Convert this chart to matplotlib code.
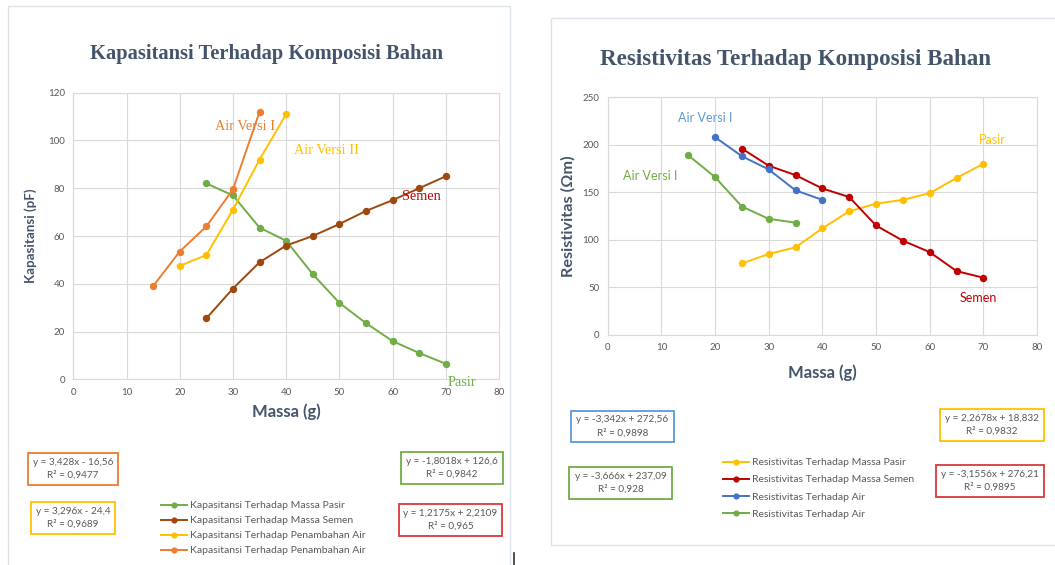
import numpy as np
import matplotlib
matplotlib.use('Agg')
import matplotlib.pyplot as plt
from matplotlib.patches import Rectangle
from matplotlib.lines import Line2D

W, H = 1055, 565

# ---- data: kapasitansi (left) ----
x_pasir_k = [25, 30, 35, 40, 45, 50, 55, 60, 65, 70]
y_pasir_k = [82, 77, 63.5, 58, 44, 32, 23.5, 16, 11, 6.5]
x_semen_k = [25, 30, 35, 40, 45, 50, 55, 60, 65, 70]
y_semen_k = [25.5, 38, 49, 56, 60, 65, 70.5, 75, 80, 85]
x_air2_k = [20, 25, 30, 35, 40]
y_air2_k = [47.5, 52, 71, 92, 111]
x_air1_k = [15, 20, 25, 30, 35]
y_air1_k = [39, 53.5, 64, 79.5, 112]

# ---- data: resistivitas (right) ----
x_pasir_r = [25, 30, 35, 40, 45, 50, 55, 60, 65, 70]
y_pasir_r = [75, 85, 92, 112, 130, 138, 142, 149, 165, 180]
x_semen_r = [25, 30, 35, 40, 45, 50, 55, 60, 65, 70]
y_semen_r = [196, 178, 168, 154, 145, 115, 99, 87, 67, 60]
x_air1_r = [20, 25, 30, 35, 40]
y_air1_r = [208, 188, 174, 152, 142]
x_air2_r = [15, 20, 25, 30, 35]
y_air2_r = [189, 166, 135, 122, 118]

GREEN = '#70AD47'; BROWN = '#9E480E'; YELLOW = '#FFC000'; ORANGE = '#ED7D31'
BLUE = '#4472C4'; RED = '#C00000'; GRID = '#D9D9D9'; TXT = '#595959'; HEAD = '#44546A'

plt.rcParams['font.family'] = ['Lato', 'DejaVu Sans']

fig = plt.figure(figsize=(W / 100, H / 100), dpi=100)


def box(x0, y0, x1, y1):
    # pixel box (top-left origin) -> figure fraction rect
    return [x0 / W, 1 - y1 / H, (x1 - x0) / W, (y1 - y0) / H]


def fx(x): return x / W
def fy(y): return 1 - y / H


# panel frames
fig.patches.append(Rectangle((fx(8), fy(575)), (510 - 8) / W, (575 - 6) / H,
                             transform=fig.transFigure, fill=False, ec='#DDE3EA', lw=1))
fig.patches.append(Rectangle((fx(551), fy(545)), (1065 - 551) / W, (545 - 18) / H,
                             transform=fig.transFigure, fill=False, ec='#DDE3EA', lw=1))
# little cursor mark between the panels
fig.lines.append(Line2D([fx(514), fx(514)], [fy(553), fy(565)], transform=fig.transFigure,
                        color='#333333', lw=1.2))


def style_axes(ax, xmax, ymax, ystep):
    ax.set_xlim(0, xmax); ax.set_ylim(0, ymax)
    ax.set_xticks(np.arange(0, xmax + 1, 10))
    ax.set_yticks(np.arange(0, ymax + 1, ystep))
    ax.grid(True, color=GRID, lw=0.8)
    ax.set_axisbelow(True)
    for s in ax.spines.values():
        s.set_color(GRID); s.set_linewidth(0.8)
    ax.tick_params(length=0, labelsize=7, colors=TXT, pad=6)


def legend(ax, handles, labels, x, y, spacing):
    ax.legend(handles, labels, loc='upper left', bbox_to_anchor=(fx(x), fy(y)),
              bbox_transform=fig.transFigure, frameon=False, fontsize=7.5, labelcolor=TXT,
              handlelength=2.5, handletextpad=0.3, labelspacing=spacing,
              borderaxespad=0, borderpad=0, markerscale=0.8)


# ---------- left chart ----------
axL = fig.add_axes(box(73.3, 92.7, 499, 379.3))
style_axes(axL, 80, 120, 20)
mk = dict(marker='o', markersize=4.3, lw=1.4)
l1, = axL.plot(x_pasir_k, y_pasir_k, color=GREEN, **mk)
l2, = axL.plot(x_semen_k, y_semen_k, color=BROWN, **mk)
l3, = axL.plot(x_air2_k, y_air2_k, color=YELLOW, **mk)
l4, = axL.plot(x_air1_k, y_air1_k, color=ORANGE, **mk)
axL.set_xlabel('Massa (g)', fontsize=12, fontweight='bold', color=HEAD, labelpad=5)
axL.set_ylabel('Kapasitansi (pF)', fontsize=9.6, fontweight='bold', color=HEAD, labelpad=8)

serif = ['Liberation Serif', 'DejaVu Serif']
fig.text(fx(267), fy(54), 'Kapasitansi Terhadap Komposisi Bahan', family=serif,
         fontsize=14.8, fontweight='bold', color=HEAD, ha='center', va='center')
fig.text(fx(245), fy(127), 'Air Versi I', family=serif, fontsize=10.3, color=ORANGE,
         ha='center', va='center')
fig.text(fx(326), fy(150), 'Air Versi II', family=serif, fontsize=10.3, color=YELLOW,
         ha='center', va='center')
fig.text(fx(421), fy(197), 'Semen', family=serif, fontsize=10.3, color=RED,
         ha='center', va='center')
fig.text(fx(462), fy(382), 'Pasir', family=serif, fontsize=10.3, color=GREEN,
         ha='center', va='center')

legend(axL, [l1, l2, l3, l4],
       ['Kapasitansi Terhadap Massa Pasir', 'Kapasitansi Terhadap Massa Semen',
        'Kapasitansi Terhadap Penambahan Air', 'Kapasitansi Terhadap Penambahan Air'],
       161, 501, 0.55)


def eq_box(x0, y0, x1, y1, color, line1, line2):
    fig.patches.append(Rectangle((fx(x0), fy(y1)), (x1 - x0) / W, (y1 - y0) / H,
                                 transform=fig.transFigure, fill=False, ec=color, lw=1.3))
    cx = (x0 + x1) / 2; cy = (y0 + y1) / 2
    fig.text(fx(cx), fy(cy - 6.5), line1, fontsize=7.2, color=TXT, ha='center', va='center')
    fig.text(fx(cx), fy(cy + 6.5), line2, fontsize=7.2, color=TXT, ha='center', va='center')


eq_box(28, 453, 118, 485, ORANGE, 'y = 3,428x - 16,56', 'R² = 0,9477')
eq_box(31, 502, 115, 534, YELLOW, 'y = 3,296x - 24,4', 'R² = 0,9689')
eq_box(401, 452, 503, 484, GREEN, 'y = -1,8018x + 126,6', 'R² = 0,9842')
eq_box(399, 504, 502, 536, '#D9383A', 'y = 1,2175x + 2,2109', 'R² = 0,965')

# ---------- right chart ----------
axR = fig.add_axes(box(607.7, 97.3, 1037, 334.7))
style_axes(axR, 80, 250, 50)
r1, = axR.plot(x_pasir_r, y_pasir_r, color=YELLOW, **mk)
r2, = axR.plot(x_semen_r, y_semen_r, color=RED, **mk)
r3, = axR.plot(x_air1_r, y_air1_r, color=BLUE, **mk)
r4, = axR.plot(x_air2_r, y_air2_r, color=GREEN, **mk)
axR.set_xlabel('Massa (g)', fontsize=12, fontweight='bold', color=HEAD, labelpad=9)
axR.set_ylabel('Resistivitas (Ωm)', fontsize=11.7, fontweight='bold', color=HEAD, labelpad=5)

fig.text(fx(796), fy(60), 'Resistivitas Terhadap Komposisi Bahan', family=serif,
         fontsize=16.6, fontweight='bold', color=HEAD, ha='center', va='center')
fig.text(fx(705), fy(118), 'Air Versi I', fontsize=9, color='#5B9BD5', ha='center', va='center')
fig.text(fx(650), fy(176), 'Air Versi I', fontsize=9, color=GREEN, ha='center', va='center')
fig.text(fx(992), fy(140), 'Pasir', fontsize=9, color=YELLOW, ha='center', va='center')
fig.text(fx(978), fy(298), 'Semen', fontsize=9, color=RED, ha='center', va='center')

legend(axR, [r1, r2, r3, r4],
       ['Resistivitas Terhadap Massa Pasir', 'Resistivitas Terhadap Massa Semen',
        'Resistivitas Terhadap Air', 'Resistivitas Terhadap Air'],
       723, 458, 0.75)

eq_box(571, 411, 674, 442, '#5B9BD5', 'y = -3,342x + 272,56', 'R² = 0,9898')
eq_box(569, 467, 672, 499, GREEN, 'y = -3,666x + 237,09', 'R² = 0,928')
eq_box(940, 409, 1044, 441, YELLOW, 'y = 2,2678x + 18,832', 'R² = 0,9832')
eq_box(936, 465, 1044, 497, '#D9383A', 'y = -3,1556x + 276,21', 'R² = 0,9895')

fig.savefig('out.png', dpi=100)
